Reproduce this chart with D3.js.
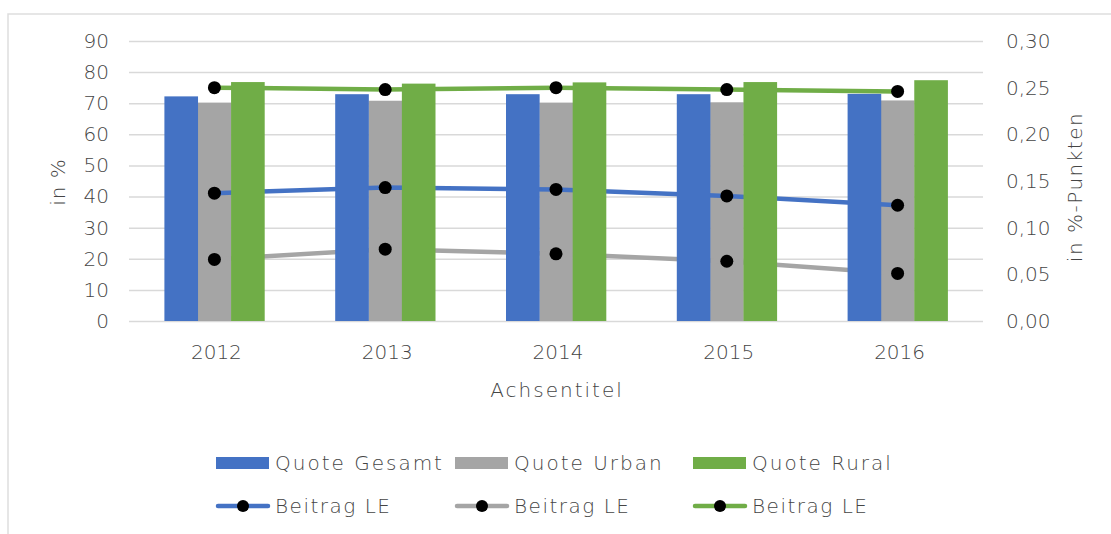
<!DOCTYPE html>
<html>
<head>
<meta charset="utf-8">
<script src="https://cdn.jsdelivr.net/npm/d3@7"></script>
<style>
  body { margin: 0; background: #fff; }
  text { font-family: "DejaVu Sans", sans-serif; font-weight: 300; fill: #454545; }
</style>
</head>
<body>
<div id="chart"></div>
<script>
const years = ["2012", "2013", "2014", "2015", "2016"];
const quoteGesamt = [72.2, 72.9, 72.9, 72.9, 73.0];
const quoteUrban = [70.2, 70.8, 70.2, 70.3, 70.9];
const quoteRural = [76.8, 76.3, 76.7, 76.8, 77.4];
const beitragGesamt = [0.137, 0.143, 0.141, 0.134, 0.124];
const beitragUrban = [0.066, 0.077, 0.072, 0.064, 0.051];
const beitragRural = [0.250, 0.248, 0.250, 0.248, 0.246];
const leftTicks = [0, 10, 20, 30, 40, 50, 60, 70, 80, 90];
const rightTicks = [0, 0.05, 0.1, 0.15, 0.2, 0.25, 0.3];

const width = 1111, height = 534;
const margin = { top: 41, right: 128, bottom: 213, left: 129 };
const colors = { gesamt: "#4472C4", urban: "#A5A5A5", rural: "#70AD47" };
const textColor = "#454545";

const barSeries = [
  { name: "Quote Gesamt", values: quoteGesamt, color: colors.gesamt },
  { name: "Quote Urban", values: quoteUrban, color: colors.urban },
  { name: "Quote Rural", values: quoteRural, color: colors.rural }
];
const lineSeries = [
  { name: "Beitrag LE", values: beitragGesamt, color: colors.gesamt },
  { name: "Beitrag LE", values: beitragUrban, color: colors.urban },
  { name: "Beitrag LE", values: beitragRural, color: colors.rural }
];

const svg = d3.select("#chart").append("svg").attr("width", width).attr("height", height);

// chart frame (only top and left edge visible)
svg.append("path")
  .attr("d", `M8,${height} V14 H${width}`)
  .attr("fill", "none")
  .attr("stroke", "#dedede")
  .attr("stroke-width", 1.5);

const x = d3.scaleBand()
  .domain(years)
  .range([margin.left, width - margin.right])
  .paddingInner(0.4145)
  .paddingOuter(0.4145 / 2);

const xs = d3.scaleBand()
  .domain(barSeries.map((d, i) => i))
  .range([0, x.bandwidth()]);

const y = d3.scaleLinear().domain([0, 90]).range([height - margin.bottom, margin.top]);
const y2 = d3.scaleLinear().domain([0, 0.3]).range([height - margin.bottom, margin.top]);

const de = d3.formatLocale({ decimal: ",", thousands: ".", grouping: [3], currency: ["", " €"] });

// left axis + gridlines
svg.append("g")
  .attr("transform", `translate(${margin.left},0)`)
  .call(d3.axisLeft(y).tickValues(leftTicks).tickSize(-(width - margin.left - margin.right)).tickPadding(20))
  .call((g) => g.select(".domain").remove())
  .call((g) => g.selectAll("line").attr("stroke", "#d9d9d9").attr("stroke-width", 1.5))
  .call((g) => g.selectAll("text").style("font-size", "20px").attr("fill", textColor));

// right axis
svg.append("g")
  .attr("transform", `translate(${width - margin.right},0)`)
  .call(d3.axisRight(y2).tickValues(rightTicks).tickFormat(de.format(".2f")).tickSize(0).tickPadding(23))
  .call((g) => g.select(".domain").remove())
  .call((g) => g.selectAll("text").style("font-size", "20px").attr("fill", textColor));

// bottom axis
svg.append("g")
  .attr("transform", `translate(0,${height - margin.bottom})`)
  .call(d3.axisBottom(x).tickSize(0).tickPadding(24))
  .call((g) => g.select(".domain").remove())
  .call((g) => g.selectAll("text").style("font-size", "20px").attr("fill", textColor).attr("x", 2));

function drawBars(si) {
  const s = barSeries[si];
  svg.append("g")
    .selectAll("rect")
    .data(s.values)
    .join("rect")
    .attr("x", (d, i) => x(years[i]) + xs(si))
    .attr("y", (d) => y(d))
    .attr("width", xs.bandwidth() + 0.3)
    .attr("height", (d) => y(0) - y(d))
    .attr("fill", s.color);
}

const line = d3.line()
  .x((d, i) => x(years[i]) + x.bandwidth() / 2)
  .y((d) => y2(d));

// draw order as in the original: grey bars, lines, blue and green bars, markers
drawBars(1);

svg.append("g")
  .selectAll("path")
  .data(lineSeries)
  .join("path")
  .attr("d", (d) => line(d.values))
  .attr("fill", "none")
  .attr("stroke", (d) => d.color)
  .attr("stroke-width", 4.5)
  .attr("stroke-linecap", "round");

drawBars(0);
drawBars(2);

lineSeries.forEach((s) => {
  svg.append("g")
    .selectAll("circle")
    .data(s.values)
    .join("circle")
    .attr("cx", (d, i) => x(years[i]) + x.bandwidth() / 2)
    .attr("cy", (d) => y2(d))
    .attr("r", 6.5)
    .attr("fill", "#000");
});

// axis titles
svg.append("text")
  .attr("transform", `translate(58,182) rotate(-90)`)
  .attr("text-anchor", "middle")
  .attr("dy", "0.35em")
  .style("font-size", "20px")
  .style("letter-spacing", "1px")
  .text("in %");

svg.append("text")
  .attr("transform", `translate(1075,187) rotate(-90)`)
  .attr("text-anchor", "middle")
  .attr("dy", "0.35em")
  .style("font-size", "20px")
  .style("letter-spacing", "1.5px")
  .text("in %-Punkten");

svg.append("text")
  .attr("x", 557)
  .attr("y", 390)
  .attr("text-anchor", "middle")
  .attr("dy", "0.35em")
  .style("font-size", "20px")
  .style("letter-spacing", "2px")
  .text("Achsentitel");

// legend
const legendX = [216, 455, 693];
const legend = svg.append("g");

barSeries.forEach((s, i) => {
  const g = legend.append("g").attr("transform", `translate(${legendX[i]},463)`);
  g.append("rect").attr("x", 0).attr("y", -6).attr("width", 53).attr("height", 12).attr("fill", s.color);
  g.append("text").attr("x", 59).attr("dy", "0.35em").style("font-size", "20px").style("letter-spacing", "2px").text(s.name);
});

lineSeries.forEach((s, i) => {
  const g = legend.append("g").attr("transform", `translate(${legendX[i]},506)`);
  g.append("line").attr("x1", 2).attr("x2", 52).attr("stroke", s.color).attr("stroke-width", 4.5).attr("stroke-linecap", "round");
  g.append("circle").attr("cx", 27).attr("r", 6).attr("fill", "#000");
  g.append("text").attr("x", 59).attr("dy", "0.35em").style("font-size", "20px").style("letter-spacing", "1.5px").text(s.name);
});
</script>
</body>
</html>
